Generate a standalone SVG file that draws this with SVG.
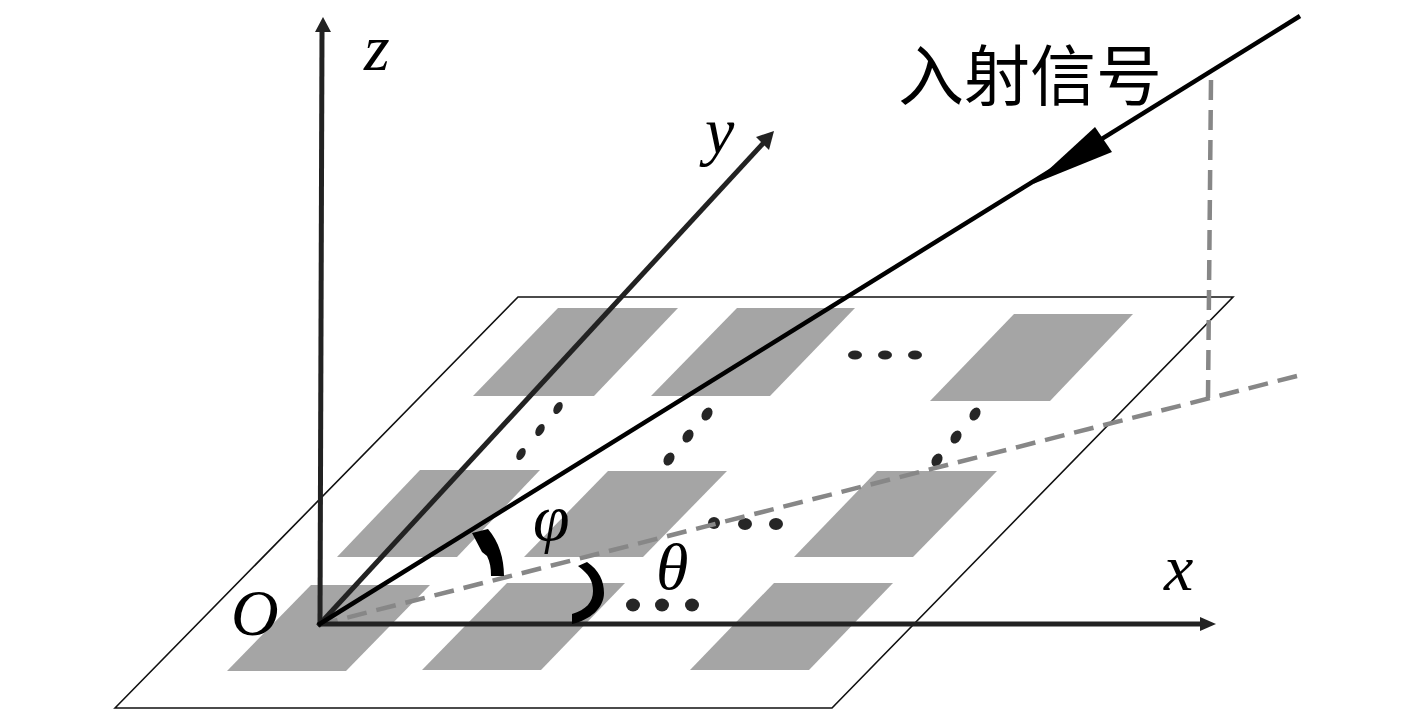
<svg xmlns="http://www.w3.org/2000/svg" width="1417" height="709" viewBox="0 0 1417 709">
<style>
.patch{fill:#a5a5a5}
.axis{stroke:#222;stroke-width:5;fill:none}
.dash{stroke:#878787;stroke-width:4.5;fill:none;stroke-dasharray:20 10}
.dot{fill:#262626}
.ah{fill:#222}
.m{font-family:"Liberation Serif",serif;font-style:italic;fill:#000;font-size:66px}
.cjk{font-family:"Noto Sans CJK SC",sans-serif;font-size:66px;fill:#000}
</style>
<rect width="1417" height="709" fill="#fff"/>
<g id="plane"><polygon points="115,708 518,297 1233,297 832,708" fill="#fff" stroke="#111" stroke-width="1.6"/></g>
<g id="patches">
<polygon class="patch" points="473,396 558,308 678,308 594,396"/>
<polygon class="patch" points="651,396 737,308 855,308 770,396"/>
<polygon class="patch" points="930,401 1014,314 1133,314 1050,401"/>
<polygon class="patch" points="337,557 420,470 540,470 457,557"/>
<polygon class="patch" points="524,557 608,471 727,471 643,557"/>
<polygon class="patch" points="794,557 877,471 997,471 913,557"/>
<polygon class="patch" points="227,671 311,585 430,585 346,671"/>
<polygon class="patch" points="422,670 507,583 625,583 541,670"/>
<polygon class="patch" points="690,670 774,583 893,583 809,670"/>
</g>
<g id="dots">
<ellipse class="dot" cx="855" cy="355" rx="7" ry="4.5"/><ellipse class="dot" cx="885" cy="355" rx="7" ry="4.5"/><ellipse class="dot" cx="915" cy="355" rx="7" ry="4.5"/>
<ellipse class="dot" cx="558" cy="408" rx="4" ry="6.5" transform="rotate(30 558 408)"/><ellipse class="dot" cx="540" cy="430" rx="4" ry="6.5" transform="rotate(30 540 430)"/><ellipse class="dot" cx="521" cy="454" rx="4" ry="6.5" transform="rotate(30 521 454)"/>
<ellipse class="dot" cx="707" cy="414" rx="5" ry="7" transform="rotate(30 707 414)"/><ellipse class="dot" cx="688" cy="436" rx="5" ry="7" transform="rotate(30 688 436)"/><ellipse class="dot" cx="669" cy="459" rx="5" ry="7" transform="rotate(30 669 459)"/>
<ellipse class="dot" cx="975" cy="414" rx="5" ry="7" transform="rotate(30 975 414)"/><ellipse class="dot" cx="956" cy="437" rx="5" ry="7" transform="rotate(30 956 437)"/><ellipse class="dot" cx="937" cy="460" rx="5" ry="7" transform="rotate(30 937 460)"/>
<circle class="dot" cx="714" cy="523" r="6"/><ellipse class="dot" cx="745" cy="524" rx="7" ry="6"/><ellipse class="dot" cx="776" cy="524" rx="7" ry="6"/>
<ellipse class="dot" cx="633" cy="605" rx="7" ry="6.5"/><ellipse class="dot" cx="662" cy="605" rx="7" ry="6.5"/><ellipse class="dot" cx="692" cy="605" rx="7" ry="6.5"/>
</g>
<g id="connectors">
<path class="dash" d="M1297,376 L318,625"/>
<path class="dash" d="M1211,80 L1208,398"/>
<path class="axis" d="M320,626 L322,30"/>
<path class="axis" d="M318,624 L1204,624"/>
<path class="axis" stroke-width="5.5" d="M318,626 L768,138"/>
<polygon class="ah" points="323,17 331,32 315,32"/>
<polygon class="ah" points="1216,624 1200,617 1200,631"/>
<polygon class="ah" points="774,131 769,150 756,137"/>
<path d="M1300,16 L318,625" stroke="#000" stroke-width="4.5" fill="none"/>
<polygon fill="#000" points="1033,184 1095,127 1112,152"/>
<path fill="#000" d="M491,576 C491,568 490,562 487,556 L482,552 L472,533 L488,529 C499,542 504,558 504,576 Z"/>
<path fill="#000" d="M572,614 C586,610 593,602 593,591 C593,581 589,574 578,566 L587,562 C599,570 604,581 604,593 C604,608 590,620 572,624 Z"/>
</g>
<g id="labels">
<text class="m" x="364" y="70">z</text>
<text class="m" x="705" y="153">y</text>
<text class="m" x="1164" y="590">x</text>
<text class="m" x="231" y="635">O</text>
<text class="m" x="533" y="540">φ</text>
<text class="m" x="656" y="589">θ</text>
<text class="cjk" x="898" y="100">入射信号</text>
</g>
</svg>
